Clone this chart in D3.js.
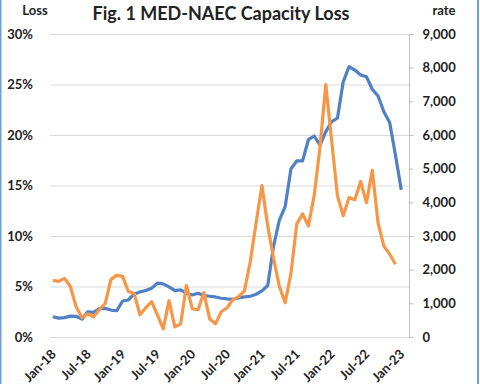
<!DOCTYPE html>
<html>
<head>
<meta charset="utf-8">
<script src="https://cdn.jsdelivr.net/npm/d3@7"></script>
<style>
  body { margin: 0; background: #fff; }
  text { font-family: Lato, "Noto Sans", sans-serif; font-weight: bold; fill: #222; }
</style>
</head>
<body>
<div id="container"></div>
<script>
/* CONSTANTS AND GLOBALS */
const width = 480,
  height = 384,
  margin = {top: 34, bottom: 47, left: 50, right: 70};

// months Jan-18 .. Feb-23 (category axis)
const months = d3.timeMonths(new Date(2018, 0, 1), new Date(2023, 2, 1));
const tickMonths = ["Jan-18", "Jul-18", "Jan-19", "Jul-19", "Jan-20", "Jul-20",
  "Jan-21", "Jul-21", "Jan-22", "Jul-22", "Jan-23"];

// capacity loss, % (left axis), Jan-18 .. Dec-22
const lossPct = [5.6, 5.5, 5.8, 5.0, 3.0, 1.9, 2.3, 2.0, 2.7, 3.3,
  5.7, 6.1, 6.0, 4.5, 4.3, 2.2, 2.9, 3.5, 2.2, 0.8,
  3.6, 1.0, 1.3, 5.1, 2.8, 2.7, 4.4, 1.8, 1.3, 2.5,
  2.9, 3.7, 4.0, 4.6, 7.5, 11.3, 15.0, 11.0, 7.8, 5.0,
  3.4, 6.3, 11.2, 12.2, 11.0, 14.0, 18.8, 25.0, 19.5, 14.0,
  12.0, 13.8, 13.6, 15.4, 13.3, 16.5, 11.3, 9.0, 8.2, 7.2];

// rate (right axis), Jan-18 .. Jan-23
const rate = [600, 560, 575, 620, 615, 530, 750, 730, 840, 850,
  800, 780, 1070, 1100, 1280, 1340, 1380, 1450, 1600, 1580,
  1490, 1380, 1400, 1300, 1250, 1300, 1230, 1210, 1190, 1150,
  1130, 1120, 1160, 1190, 1210, 1270, 1370, 1530, 2700, 3470,
  3870, 5000, 5230, 5230, 5860, 5970, 5700, 6100, 6400, 6500,
  7580, 8030, 7930, 7780, 7730, 7360, 7160, 6690, 6370, 5400,
  4370];

const leftTicks = [0, 5, 10, 15, 20, 25, 30];
const rightTicks = [0, 1000, 2000, 3000, 4000, 5000, 6000, 7000, 8000, 9000];

const fmtMonth = d3.timeFormat("%b-%y");

const svg = d3.select("#container")
  .append("svg")
  .attr("width", width)
  .attr("height", height);

// outer border (left / right edges)
svg.append("line").attr("x1", 0.5).attr("x2", 0.5).attr("y1", 0).attr("y2", height)
  .attr("stroke", "#6f9fd8").attr("stroke-width", 2);
svg.append("line").attr("x1", 478).attr("x2", 478).attr("y1", 0).attr("y2", height)
  .attr("stroke", "#6f9fd8").attr("stroke-width", 2);

// SCALES
const xScale = d3.scaleBand()
  .domain(months.map(fmtMonth))
  .range([margin.left, width - margin.right])
  .padding(0);
const xc = m => xScale(m) + xScale.bandwidth() / 2;

const yLeft = d3.scaleLinear()
  .domain([0, 30])
  .range([height - margin.bottom, margin.top]);

const yRight = d3.scaleLinear()
  .domain([0, 9000])
  .range([height - margin.bottom, margin.top]);

// GRIDLINES
svg.append("g")
  .selectAll("line")
  .data(leftTicks)
  .join("line")
  .attr("x1", margin.left)
  .attr("x2", width - margin.right)
  .attr("y1", d => yLeft(d) + 0.5)
  .attr("y2", d => yLeft(d) + 0.5)
  .attr("stroke", "#d9d9d9")
  .attr("stroke-width", 1);

// LEFT AXIS
const leftAxis = svg.append("g")
  .attr("transform", `translate(${margin.left - 14},0)`)
  .call(d3.axisLeft(yLeft).tickValues(leftTicks).tickSize(0).tickFormat(d => d + "%"));
leftAxis.select(".domain").remove();
leftAxis.selectAll("text").attr("font-size", 13).attr("dx", 0);

// RIGHT AXIS
const rightAxis = svg.append("g")
  .attr("transform", `translate(${width - margin.right - 0.5},0)`)
  .call(d3.axisRight(yRight).tickValues(rightTicks).tickSize(4).tickPadding(9).tickFormat(d3.format(",")));
rightAxis.select(".domain").attr("stroke", "#bfbfbf").attr("d", `M0,${margin.top}V${height - margin.bottom}`);
rightAxis.selectAll("line").attr("stroke", "#bfbfbf");
rightAxis.selectAll("text").attr("font-size", 13);

// BOTTOM AXIS
const xAxis = svg.append("g")
  .attr("transform", `translate(0,${height - margin.bottom})`)
  .call(d3.axisBottom(xScale).tickValues(tickMonths).tickSize(0).tickPadding(0));
xAxis.select(".domain").remove();
xAxis.selectAll("text")
  .attr("font-size", 13)
  .attr("text-anchor", "end")
  .attr("dy", 0)
  .attr("transform", "translate(4,18) rotate(-45)");

// LINES
const rateLine = d3.line()
  .x((d, i) => xc(fmtMonth(months[i])))
  .y(d => yRight(d));

const lossLine = d3.line()
  .x((d, i) => xc(fmtMonth(months[i])))
  .y(d => yLeft(d));

svg.append("path")
  .datum(rate)
  .attr("fill", "none")
  .attr("stroke", "#4f81c4")
  .attr("stroke-width", 3.2)
  .attr("stroke-linejoin", "round")
  .attr("d", rateLine);

svg.append("path")
  .datum(lossPct)
  .attr("fill", "none")
  .attr("stroke", "#f79646")
  .attr("stroke-width", 3.2)
  .attr("stroke-linejoin", "round")
  .attr("d", lossLine);

// TITLES
svg.append("text")
  .attr("x", 221)
  .attr("y", 20)
  .attr("text-anchor", "middle")
  .attr("font-size", 18)
  .text("Fig. 1 MED-NAEC Capacity Loss");

svg.append("text")
  .attr("x", 35)
  .attr("y", 15)
  .attr("text-anchor", "middle")
  .attr("font-size", 13)
  .text("Loss");

svg.append("text")
  .attr("x", 444)
  .attr("y", 15)
  .attr("text-anchor", "middle")
  .attr("font-size", 13)
  .text("rate");
</script>
</body>
</html>
